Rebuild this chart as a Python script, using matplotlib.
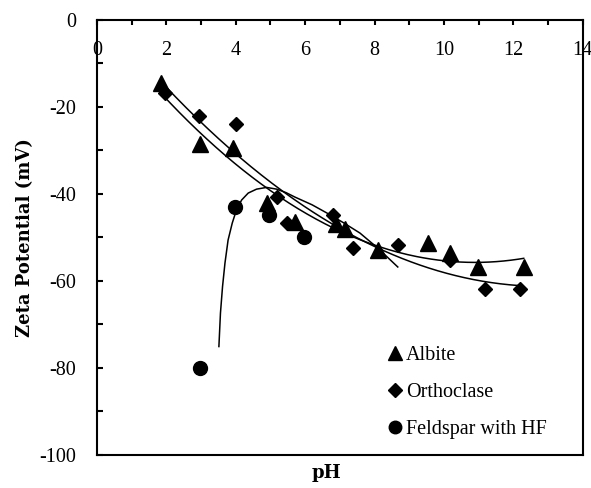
import numpy as np
import matplotlib
matplotlib.use("Agg")
import matplotlib.pyplot as plt
from matplotlib.ticker import MultipleLocator

plt.rcParams['font.family'] = ['Liberation Serif', 'DejaVu Serif']
plt.rcParams['axes.unicode_minus'] = False

# albite (triangles)
albite_ph = [1.85, 2.97, 3.92, 4.9, 5.7, 6.9, 7.15, 8.1, 9.54, 10.17, 10.97, 12.3]
albite_zeta = [-14.5, -28.5, -29.5, -42.0, -46.4, -47.0, -48.0, -52.9, -51.3, -53.6, -56.7, -56.8]

# orthoclase (diamonds)
ortho_ph = [1.96, 2.94, 4.0, 5.18, 5.47, 6.8, 7.38, 8.67, 10.17, 11.18, 12.19]
ortho_zeta = [-16.8, -22.1, -23.9, -40.6, -46.7, -44.8, -52.5, -51.7, -55.2, -61.9, -61.9]

# feldspar treated with HF (circles)
hf_ph = [2.97, 3.98, 4.96, 5.96]
hf_zeta = [-80.0, -43.0, -44.8, -49.9]

# hand-drawn guide curve for the HF data
hf_curve_ph = [3.515, 3.56, 3.62, 3.69, 3.78, 3.90, 4.02, 4.17, 4.36, 4.60, 4.89,
               5.18, 5.45, 5.7, 6.2, 6.63, 7.1, 7.58, 8.1, 8.67]
hf_curve_zeta = [-75.1, -67.4, -61.3, -55.9, -50.6, -46.7, -43.7, -41.4, -39.8, -38.9, -38.5,
                 -38.9, -39.7, -40.7, -42.5, -44.4, -46.6, -49.0, -52.5, -56.8]

fig = plt.figure(figsize=(5.91, 4.88), dpi=100)
ax = fig.add_axes([0.164, 0.068, 0.822, 0.891])

# 2nd order trendlines like the spreadsheet ones
for px, py in [(albite_ph, albite_zeta), (ortho_ph, ortho_zeta)]:
    c = np.polyfit(px, py, 2)
    xx = np.linspace(min(px), max(px), 200)
    ax.plot(xx, np.polyval(c, xx), color='black', lw=1.1, zorder=2)
ax.plot(hf_curve_ph, hf_curve_zeta, color='black', lw=1.1, zorder=2)

ax.plot(albite_ph, albite_zeta, ls='none', marker='^', ms=11, color='black', label='Albite', zorder=3)
ax.plot(ortho_ph, ortho_zeta, ls='none', marker='D', ms=7.5, color='black', label='Orthoclase', zorder=3)
ax.plot(hf_ph, hf_zeta, ls='none', marker='o', ms=10, color='black', label='Feldspar with HF', zorder=3)

ax.set_xlim(0, 14)
ax.set_ylim(-100, 0)
ax.xaxis.set_major_locator(MultipleLocator(2))
ax.xaxis.set_minor_locator(MultipleLocator(1))
ax.yaxis.set_major_locator(MultipleLocator(20))
ax.yaxis.set_minor_locator(MultipleLocator(10))

ax.tick_params(axis='x', which='both', top=True, bottom=False, labeltop=True,
               labelbottom=False, direction='in', length=3.8, width=1.5)
ax.tick_params(axis='x', which='major', pad=-28.5, labelsize=14.5)
ax.tick_params(axis='y', which='both', left=True, right=False, direction='in',
               length=4.5, width=1.5, labelsize=14.5, pad=15)

for s in ax.spines.values():
    s.set_linewidth(1.5)

lab_font = dict(family=['DejaVu Serif'], fontsize=13, fontweight='bold')
ax.set_xlabel('pH', **lab_font)
ax.xaxis.set_label_coords(0.473, -0.022)
ax.set_ylabel('Zeta Potential (mV)', **lab_font)
ax.yaxis.set_label_coords(-0.13, 0.5)

leg = ax.legend(loc='lower right', bbox_to_anchor=(0.955, 0.003), frameon=False, fontsize=14.5,
                handlelength=0.6, handletextpad=0.25, labelspacing=0.9, borderaxespad=0.3,
                markerscale=0.9)

fig.savefig('out.png', dpi=100)
